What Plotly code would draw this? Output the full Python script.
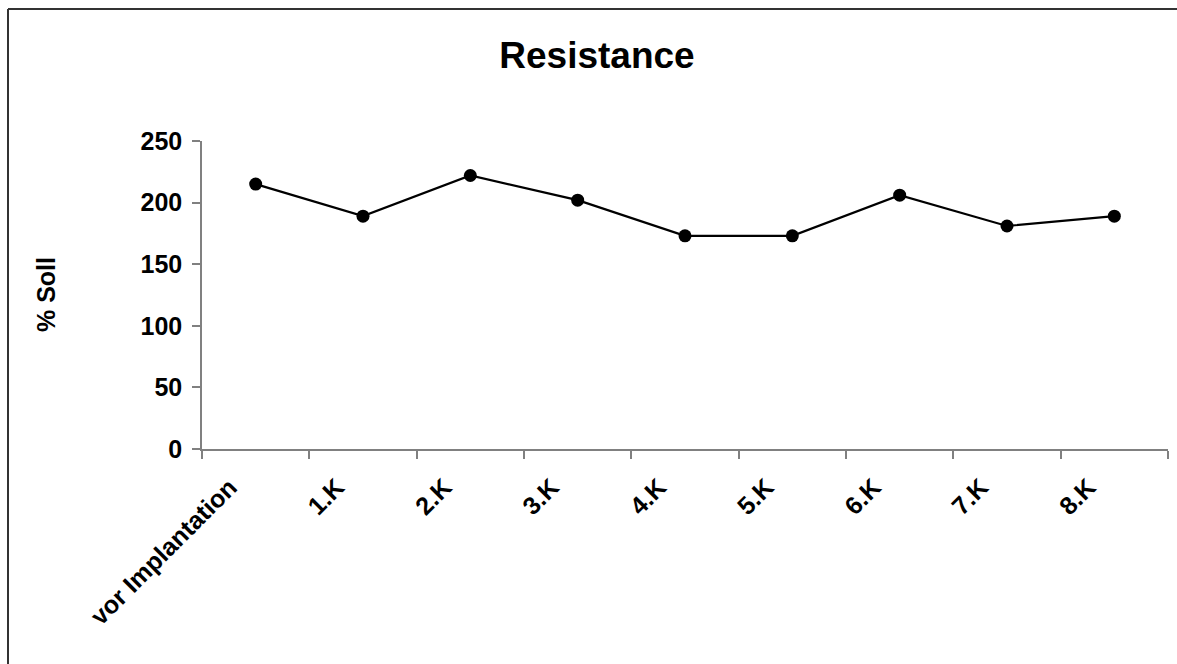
import plotly.graph_objects as go

# Measurement series
categories = ["vor Implantation", "1.K", "2.K", "3.K", "4.K", "5.K", "6.K", "7.K", "8.K"]
resistance = [215, 189, 222, 202, 173, 173, 206, 181, 189]
y_ticks = [0, 50, 100, 150, 200, 250]

W, H = 1177, 664
L, R, T, B = 202, 9, 141, 215
pw = W - L - R
ph = H - T - B

font_family = "Liberation Sans, Arial, sans-serif"

fig = go.Figure()
fig.add_trace(go.Scatter(
    x=categories,
    y=resistance,
    mode="lines+markers",
    line=dict(color="black", width=2.2),
    marker=dict(color="black", size=13),
    hoverinfo="x+y",
))

def px_to_paper_x(px):
    return (px - L) / pw

def px_to_paper_y(py):
    return (H - B - py) / ph

# Frame edges: left and top
frame = dict(color="#333333", width=2)
fig.add_shape(type="line", xref="paper", yref="paper",
              x0=px_to_paper_x(8), x1=px_to_paper_x(8),
              y0=px_to_paper_y(9), y1=px_to_paper_y(700), line=frame, layer="above")
fig.add_shape(type="line", xref="paper", yref="paper",
              x0=px_to_paper_x(8), x1=px_to_paper_x(1220),
              y0=px_to_paper_y(9), y1=px_to_paper_y(9), line=frame, layer="above")

# Vertical axis title
fig.add_annotation(
    text="<b>% Soll</b>", textangle=-90,
    xref="paper", yref="paper",
    x=px_to_paper_x(46), y=px_to_paper_y(295),
    xanchor="center", yanchor="middle", showarrow=False,
    font=dict(size=25, family=font_family, color="black"),
)

fig.update_layout(
    width=W, height=H,
    margin=dict(l=L, r=R, t=T, b=B, autoexpand=False),
    paper_bgcolor="white",
    plot_bgcolor="white",
    showlegend=False,
    font=dict(family=font_family, color="black"),
    title=dict(
        text="<b>Resistance</b>",
        x=597 / W, xanchor="center",
        y=1 - 55 / H, yanchor="middle",
        font=dict(size=37, family=font_family, color="black"),
    ),
    xaxis=dict(
        type="category",
        range=[-0.5, len(categories) - 0.5],
        tickson="boundaries",
        ticks="outside", ticklen=8, tickwidth=1.5, tickcolor="#808080",
        showline=True, linecolor="#808080", linewidth=1.5,
        showgrid=False, zeroline=False,
        tickangle=-45,
        ticklabelstandoff=12,
        ticklabelshift=-26,
        tickfont=dict(size=25, family=font_family, color="black", weight="bold"),
        fixedrange=True,
    ),
    yaxis=dict(
        range=[0, 250],
        tickvals=y_ticks,
        ticks="outside", ticklen=8, tickwidth=1.5, tickcolor="#808080",
        showline=True, linecolor="#808080", linewidth=1.5,
        showgrid=False, zeroline=False,
        ticklabelstandoff=5,
        tickfont=dict(size=25, family=font_family, color="black", weight="bold"),
        fixedrange=True,
    ),
)

fig.write_html("out.html")
